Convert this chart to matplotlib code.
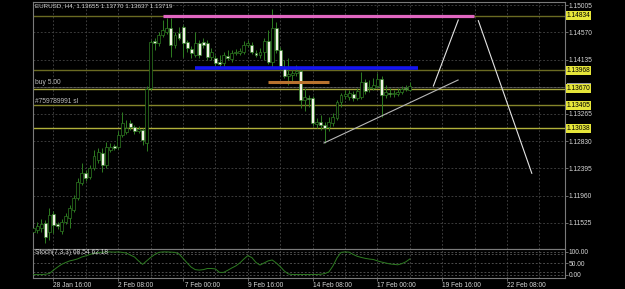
import matplotlib
matplotlib.use('Agg')
import matplotlib.pyplot as plt
from matplotlib.patches import Rectangle
import numpy as np

plt.rcParams['font.family'] = ['Liberation Sans', 'DejaVu Sans']

# ---------------- data ----------------
bars = list(range(-5, 89))  # H4 bar index, 0 = 28 Jan 16:00

opens = [
    1.1138, 1.1141, 1.1144, 1.1152, 1.1138,
    1.1167, 1.1151, 1.1139, 1.1154, 1.1160,
    1.1173, 1.1192, 1.1216, 1.1232, 1.1226,
    1.1240, 1.1253, 1.1264, 1.1245, 1.1269,
    1.1275, 1.1274, 1.1293, 1.1298, 1.1312,
    1.1306, 1.1299, 1.1301, 1.1280, 1.1368,
    1.1443, 1.1440, 1.1453, 1.1458, 1.1464,
    1.1437, 1.1456, 1.1466, 1.1442, 1.1431,
    1.1421, 1.1440, 1.1442, 1.1440, 1.1418,
    1.1416, 1.1410, 1.1408, 1.1419, 1.1415,
    1.1424, 1.1424, 1.1426, 1.1437, 1.1437,
    1.1424, 1.1421, 1.1426, 1.1443, 1.1410,
    1.1464, 1.1429, 1.1402, 1.1387, 1.1389,
    1.1392, 1.1395, 1.1349, 1.1352, 1.1352,
    1.1311, 1.1314, 1.1309, 1.1306, 1.1312,
    1.1320, 1.1346, 1.1355, 1.1354, 1.1359,
    1.1352, 1.1354, 1.1378, 1.1368, 1.1368,
    1.1371, 1.1383, 1.1357, 1.1360, 1.1359,
    1.1359, 1.1362, 1.1368, 1.13655,
]
highs = [
    1.1147, 1.1154, 1.1159, 1.1157, 1.1176,
    1.1171, 1.1154, 1.1159, 1.1168, 1.1181,
    1.1197, 1.1224, 1.1248, 1.1237, 1.1245,
    1.1269, 1.1272, 1.1272, 1.1282, 1.1280,
    1.1279, 1.1299, 1.1330, 1.1317, 1.1317,
    1.1309, 1.1307, 1.1304, 1.1371, 1.1445,
    1.1448, 1.1458, 1.1477, 1.1480, 1.1480,
    1.1458, 1.1466, 1.1469, 1.1445, 1.1435,
    1.1458, 1.1445, 1.1448, 1.1445, 1.1432,
    1.1421, 1.1421, 1.1426, 1.1429, 1.1429,
    1.1431, 1.1432, 1.1443, 1.1445, 1.1442,
    1.1429, 1.1432, 1.1448, 1.1461, 1.1495,
    1.1474, 1.1434, 1.1413, 1.1416, 1.1397,
    1.1405, 1.1399, 1.1368, 1.1357, 1.1355,
    1.1320, 1.1325, 1.1314, 1.1322, 1.1328,
    1.1349, 1.1360, 1.1365, 1.1365, 1.1363,
    1.1368, 1.1394, 1.1383, 1.1381, 1.1384,
    1.1392, 1.1387, 1.1373, 1.1368, 1.1365,
    1.1368, 1.1371, 1.1373, 1.13770,
]
lows = [
    1.1135, 1.1136, 1.1138, 1.1120, 1.1125,
    1.1136, 1.1143, 1.1135, 1.1151, 1.1144,
    1.1170, 1.1189, 1.1213, 1.1219, 1.1223,
    1.1237, 1.1248, 1.1234, 1.1240, 1.1266,
    1.1269, 1.1271, 1.1290, 1.1295, 1.1301,
    1.1295, 1.1296, 1.1277, 1.1267, 1.1365,
    1.1429, 1.1435, 1.1450, 1.1455, 1.1418,
    1.1432, 1.1445, 1.1418, 1.1426, 1.1416,
    1.1418, 1.1416, 1.1432, 1.1413, 1.1413,
    1.1403, 1.1402, 1.1403, 1.1413, 1.1410,
    1.1421, 1.1421, 1.1423, 1.1434, 1.1423,
    1.1418, 1.1416, 1.1413, 1.1407, 1.1402,
    1.1424, 1.1397, 1.1384, 1.1373, 1.1376,
    1.1387, 1.1336, 1.1331, 1.1338, 1.1307,
    1.1304, 1.1301, 1.1280, 1.1299, 1.1307,
    1.1317, 1.1338, 1.1351, 1.1349, 1.1347,
    1.1349, 1.1351, 1.1359, 1.1362, 1.1365,
    1.1368, 1.1322, 1.1352, 1.1354, 1.1354,
    1.1355, 1.1359, 1.1363, 1.13637,
]
closes = [
    1.1144, 1.1147, 1.1151, 1.1130, 1.1165,
    1.1149, 1.1147, 1.1154, 1.1163, 1.1176,
    1.1192, 1.1218, 1.1232, 1.1224, 1.1240,
    1.1259, 1.1266, 1.1245, 1.1274, 1.1274,
    1.1272, 1.1293, 1.1312, 1.1304, 1.1306,
    1.1299, 1.1303, 1.1285, 1.1367, 1.1442,
    1.1440, 1.1453, 1.1461, 1.1464, 1.1437,
    1.1453, 1.1448, 1.1440, 1.1432, 1.1424,
    1.1440, 1.1421, 1.1437, 1.1418, 1.1426,
    1.1408, 1.1407, 1.1421, 1.1416, 1.1424,
    1.1426, 1.1427, 1.1437, 1.1440, 1.1426,
    1.1421, 1.1426, 1.1443, 1.1410, 1.1464,
    1.1429, 1.1403, 1.1387, 1.1391, 1.1392,
    1.1395, 1.1349, 1.1354, 1.1351, 1.1312,
    1.1314, 1.1309, 1.1304, 1.1314, 1.1322,
    1.1346, 1.1357, 1.1359, 1.1360, 1.1352,
    1.1363, 1.1378, 1.1363, 1.1370, 1.1373,
    1.1383, 1.1357, 1.1362, 1.1359, 1.1360,
    1.1362, 1.1367, 1.1367, 1.13719,
]
stoch_k = [
    0.5, 0.5, 0.5, 2, 5,
    20, 33, 45, 53, 60,
    64, 69, 77, 82, 88,
    93, 96, 98, 99, 99,
    98, 99, 97, 94, 85,
    77, 60, 45, 60, 75,
    88, 97, 99, 99, 98,
    97, 90, 71, 51, 33,
    22, 20, 22, 27, 27,
    25, 10, 10, 19, 29,
    38, 51, 68, 83, 74,
    53, 42, 51, 60, 64,
    51, 35, 16, 3, 1,
    1, 1, 1, 1, 1,
    1, 2, 5, 12, 38,
    73, 97, 99, 98, 88,
    80, 75, 71, 68, 66,
    60, 55, 51, 47, 45,
    43, 48, 56, 68.54,
]

price_ticks = [1.15005, 1.14570, 1.14135, 1.13700, 1.13265, 1.12830, 1.12395, 1.11960, 1.11525]
price_tick_labels = ['1.15005', '1.14570', '1.14135', '', '1.13265', '1.12830', '1.12395', '1.11960', '1.11525']

level_prices = [1.14834, 1.13968, 1.13670, 1.13405, 1.13038]
level_colors = ['#6a6a22', '#6a6a22', '#a6a63c', '#85852a', '#b0b03a']
current_price = 1.13719
order_price = 1.13700

date_bars = [0, 16, 32, 48, 64, 80, 96, 112]
date_labels = ['28 Jan 16:00', '2 Feb 08:00', ' 7 Feb 00:00', '9 Feb 16:00',
               '14 Feb 08:00', '17 Feb 00:00', '19 Feb 16:00', '22 Feb 08:00']

# drawn objects: (bar_start, bar_end, price)
pink_seg = (27.0, 103.9, 1.14834)
blue_seg = (34.9, 89.9, 1.14000)
orange_seg = (53.0, 68.0, 1.13782)
# trend lines: ((bar, price), (bar, price))
trend_line = ((66.8, 1.12801), (99.9, 1.13809))
proj_up = ((93.8, 1.13713), (99.95, 1.14770))
proj_down = ((104.9, 1.14759), (118.1, 1.12316))

stoch_levels = [100, 90, 50, 10, 0]
stoch_tick_vals = [100, 50, 0]
stoch_tick_labels = ['100.00', '50.00', '0.00']

# ---------------- figure ----------------
W, H = 625, 289
fig = plt.figure(figsize=(W / 100, H / 100), dpi=100)
fig.patch.set_facecolor('black')

left, right = 33, 565
main_top, main_bot = 1.7, 249.3
st_top, st_bot = 249.3, 278.3
ax = fig.add_axes([left / W, 1 - main_bot / H, (right - left) / W, (main_bot - main_top) / H])
ax2 = fig.add_axes([left / W, 1 - st_bot / H, (right - left) / W, (st_bot - st_top) / H])

XMIN, XMAX = -5.06, 126.3
FRAME = '#7a7a7a'
GRID = '#454545'
GREEN = '#2e7d22'
TXT = '#d6d6d6'
FS = 4.8

for a in (ax, ax2):
    a.set_facecolor('black')
    a.set_xlim(XMIN, XMAX)
    for s in a.spines.values():
        s.set_color(FRAME)
        s.set_linewidth(0.8)

ax.set_ylim(1.110990, 1.150626)
ax2.set_ylim(-15.65, 110.4)

# grid
grid_bars = list(range(0, 125, 8))
for b in grid_bars:
    ax.axvline(b, color=GRID, lw=0.6, ls=(0, (2.2, 2.2)), zorder=0)
    ax2.axvline(b, color=GRID, lw=0.6, ls=(0, (2.2, 2.2)), zorder=0)
for p in price_ticks:
    ax.axhline(p, color=GRID, lw=0.6, ls=(0, (2.2, 2.2)), zorder=0)
for v in stoch_levels:
    ax2.axhline(v, color='#5a5a5a', lw=0.6, ls=(0, (2.2, 2.2)), zorder=0)

# horizontal levels
for p, c in zip(level_prices, level_colors):
    ax.axhline(p, color=c, lw=1.0, zorder=1)
ax.axhline(order_price, color='#8c8c8c', lw=0.6, ls=(0, (1.2, 1.2)), zorder=1)

# candles
bw = 0.72
for b, o, h, l, c in zip(bars, opens, highs, lows, closes):
    ax.vlines(b, l, h, color=GREEN, lw=0.7, zorder=2)
    lo, hi = min(o, c), max(o, c)
    bear = c < o
    if hi - lo < 0.00003:
        ax.hlines(o, b - bw / 2, b + bw / 2, color=GREEN if not bear else '#f0f0e6', lw=0.8, zorder=3)
        continue
    rect = Rectangle((b - bw / 2, lo), bw, hi - lo,
                     facecolor='#f2f2e8' if bear else 'black',
                     edgecolor=GREEN, lw=0.5, zorder=3)
    ax.add_patch(rect)

# object segments
ax.hlines(pink_seg[2], pink_seg[0], pink_seg[1], color='#e066c0', lw=2.3, zorder=4)
ax.hlines(blue_seg[2], blue_seg[0], blue_seg[1], color='#1414f0', lw=2.6, zorder=4)
ax.hlines(orange_seg[2], orange_seg[0], orange_seg[1], color='#b8722e', lw=2.2, zorder=4)

for (p0, p1), col in ((trend_line, '#b8b8b8'), (proj_up, '#e4e4e4'), (proj_down, '#e4e4e4')):
    ax.plot([p0[0], p1[0]], [p0[1], p1[1]], color=col, lw=0.8, zorder=5)

# texts in main pane
ax.text(0.004, 0.9826, 'EURUSD, H4, 1.13655 1.13770 1.13637 1.13719', transform=ax.transAxes,
        ha='left', va='center', fontsize=4.5, color=TXT)
ax.text(0.004, 1.13775, 'buy 5.00', transform=ax.get_yaxis_transform(),
        ha='left', va='center', fontsize=FS, color='#bdbdbd')
ax.text(0.004, 1.13457, '#759789991 sl', transform=ax.get_yaxis_transform(),
        ha='left', va='center', fontsize=FS, color='#bdbdbd')

# price axis
ax.yaxis.tick_right()
ax.set_yticks(price_ticks)
ax.set_yticklabels(price_tick_labels)
ax.tick_params(axis='y', length=2, width=0.6, color=FRAME, pad=0.6, labelsize=FS, labelcolor=TXT)
ax.tick_params(axis='x', length=0, labelbottom=False)

# current-price marker box (mostly hidden behind the 1.13670 label, as in the terminal)
box_h = 0.00090
ax.add_patch(Rectangle((1.0035, current_price - box_h / 2), 0.045, box_h,
                       transform=ax.get_yaxis_transform(), facecolor='#9a9aa8',
                       edgecolor='none', clip_on=False, zorder=6))
for p in level_prices:
    ax.text(1.003, p, f'{p:.5f}', transform=ax.get_yaxis_transform(), ha='left', va='center',
            fontsize=FS, color='black', clip_on=False,
            bbox=dict(boxstyle='square,pad=0.15', fc='#e6e63a', ec='none'), zorder=7)

# stochastic pane
ax2.plot(bars, stoch_k, color=GREEN, lw=0.7, zorder=3)
ax2.text(0.003, 0.89, 'Stoch(7,3,3) 68.54 62.18', transform=ax2.transAxes,
         ha='left', va='center', fontsize=FS, color=TXT)
ax2.yaxis.tick_right()
ax2.set_yticks(stoch_tick_vals)
ax2.set_yticklabels(stoch_tick_labels)
ax2.tick_params(axis='y', length=2, width=0.6, color=FRAME, pad=0.6, labelsize=FS, labelcolor=TXT)
ax2.set_xticks(date_bars)
ax2.set_xticklabels(date_labels, ha='left')
ax2.tick_params(axis='x', length=2, width=0.6, color=FRAME, pad=0.8, labelsize=FS, labelcolor=TXT)

fig.savefig('out.png', dpi=100, facecolor='black')
